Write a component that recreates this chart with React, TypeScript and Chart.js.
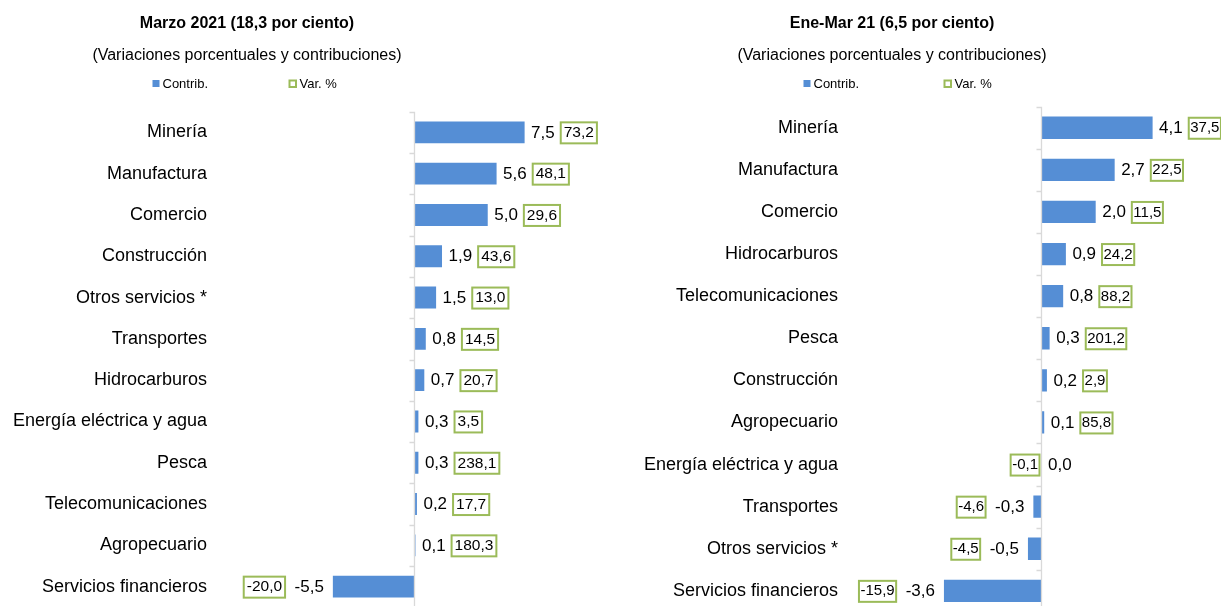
import { useEffect, useRef } from 'react';
import { Chart, registerables } from 'chart.js';

Chart.register(...registerables);

// ---------- DATA ----------
const LEGEND_LABELS = ['Contrib.', 'Var. %'];
const SUBTITLE = '(Variaciones porcentuales y contribuciones)';

const LEFT_TITLE = 'Marzo 2021 (18,3 por ciento)';
const LEFT_CATEGORIES = [
  'Minería',
  'Manufactura',
  'Comercio',
  'Construcción',
  'Otros servicios *',
  'Transportes',
  'Hidrocarburos',
  'Energía eléctrica y agua',
  'Pesca',
  'Telecomunicaciones',
  'Agropecuario',
  'Servicios financieros',
];
const LEFT_CONTRIB = [7.5, 5.6, 5.0, 1.9, 1.5, 0.8, 0.7, 0.3, 0.3, 0.2, 0.1, -5.5];
const LEFT_VAR = [73.2, 48.1, 29.6, 43.6, 13.0, 14.5, 20.7, 3.5, 238.1, 17.7, 180.3, -20.0];

const RIGHT_TITLE = 'Ene-Mar 21 (6,5 por ciento)';
const RIGHT_CATEGORIES = [
  'Minería',
  'Manufactura',
  'Comercio',
  'Hidrocarburos',
  'Telecomunicaciones',
  'Pesca',
  'Construcción',
  'Agropecuario',
  'Energía eléctrica y agua',
  'Transportes',
  'Otros servicios *',
  'Servicios financieros',
];
const RIGHT_CONTRIB = [4.1, 2.7, 2.0, 0.9, 0.8, 0.3, 0.2, 0.1, 0.0, -0.3, -0.5, -3.6];
const RIGHT_VAR = [37.5, 22.5, 11.5, 24.2, 88.2, 201.2, 2.9, 85.8, -0.1, -4.6, -4.5, -15.9];

// ---------- STYLE ----------
const BLUE = '#558ED5';
const GREEN = '#9BBB59';
const AXIS_GRAY = '#D9D9D9';
const TEXT = '#000000';
const FONT = "'Liberation Sans', Arial, Helvetica, sans-serif";
const CANVAS_H = 620;

const fmt = (v: number) => v.toFixed(1).replace('.', ',').replace(/^-0,0$/, '0,0');

type PanelCfg = {
  pageLeft: number;
  width: number;
  title: string;
  centerX: number;
  legendX: [number, number];
  chartTop: number;
  chartBottom: number;
  chartLeft: number;
  chartRight: number;
  xMin: number;
  xMax: number;
  categories: string[];
  contrib: number[];
  variation: number[];
  varFont: number;
  boxPad: number;
};

const PANELS: PanelCfg[] = [
  {
    pageLeft: 0,
    width: 612,
    title: LEFT_TITLE,
    centerX: 247,
    legendX: [152.5, 288.5],
    chartTop: 111.7,
    chartBottom: 607.3,
    chartLeft: 215,
    chartRight: 605,
    xMin: -13.49,
    xMax: 12.95,
    categories: LEFT_CATEGORIES,
    contrib: LEFT_CONTRIB,
    variation: LEFT_VAR,
    varFont: 15.5,
    boxPad: 3,
  },
  {
    pageLeft: 612,
    width: 609,
    title: RIGHT_TITLE,
    centerX: 280,
    legendX: [191.5, 331.5],
    chartTop: 106.7,
    chartBottom: 611.9,
    chartLeft: 234,
    chartRight: 606,
    xMin: -7.214,
    xMax: 6.513,
    categories: RIGHT_CATEGORIES,
    contrib: RIGHT_CONTRIB,
    variation: RIGHT_VAR,
    varFont: 15,
    boxPad: 1.5,
  },
];

function makeHeaderPlugin(p: PanelCfg) {
  return {
    id: 'header',
    afterDraw(chart: any) {
      const ctx = chart.ctx as CanvasRenderingContext2D;
      ctx.save();
      ctx.fillStyle = TEXT;
      ctx.textAlign = 'center';
      ctx.textBaseline = 'alphabetic';
      ctx.font = `bold 16px ${FONT}`;
      ctx.fillText(p.title, p.centerX, 27.5);
      ctx.font = `16px ${FONT}`;
      ctx.fillText(SUBTITLE, p.centerX, 59.5);
      // legend
      ctx.textAlign = 'left';
      ctx.font = `13px ${FONT}`;
      const boxY = 80;
      ctx.fillStyle = BLUE;
      ctx.fillRect(p.legendX[0], boxY, 7, 7);
      ctx.fillStyle = TEXT;
      ctx.fillText(LEGEND_LABELS[0], p.legendX[0] + 10, 88);
      ctx.strokeStyle = GREEN;
      ctx.lineWidth = 2;
      ctx.strokeRect(p.legendX[1] + 1, boxY + 0.5, 6.5, 6.5);
      ctx.fillStyle = TEXT;
      ctx.fillText(LEGEND_LABELS[1], p.legendX[1] + 11, 88);
      ctx.restore();
    },
  };
}

function makeAxisPlugin() {
  return {
    id: 'zeroAxis',
    afterDatasetsDraw(chart: any) {
      const ctx = chart.ctx as CanvasRenderingContext2D;
      const xs = chart.scales.x;
      const ys = chart.scales.y;
      const x0 = Math.round(xs.getPixelForValue(0)) + 0.5;
      const n = ys.getLabels().length;
      ctx.save();
      ctx.strokeStyle = AXIS_GRAY;
      ctx.lineWidth = 1.3;
      ctx.beginPath();
      ctx.moveTo(x0, chart.chartArea.top);
      ctx.lineTo(x0, chart.chartArea.bottom);
      for (let i = 0; i <= n; i++) {
        const y = Math.round(ys.getPixelForValue(i - 0.5)) + 0.5;
        ctx.moveTo(x0 - 5, y);
        ctx.lineTo(x0, y);
      }
      ctx.stroke();
      ctx.restore();
    },
  };
}

function makeLabelPlugin(p: PanelCfg) {
  return {
    id: 'valueLabels',
    afterDraw(chart: any) {
      const ctx = chart.ctx as CanvasRenderingContext2D;
      const meta = chart.getDatasetMeta(0);
      const data = chart.data.datasets[0].data as number[];
      const x0 = chart.scales.x.getPixelForValue(0);
      ctx.save();
      ctx.textBaseline = 'middle';
      meta.data.forEach((el: any, i: number) => {
        const c = data[i];
        const v = p.variation[i];
        const end = el.x;
        const y = el.y + 0.5;
        const cText = fmt(c);
        const vText = fmt(v);
        ctx.font = `17px ${FONT}`;
        const cw = ctx.measureText(cText).width;
        ctx.font = `${p.varFont}px ${FONT}`;
        const vw = ctx.measureText(vText).width;
        const bw = vw + p.boxPad * 2 + 2;
        const bh = 23;
        let cx: number;
        let bx: number;
        if (c >= 0) {
          cx = end + 6.5;
          if (v >= 0) {
            bx = cx + cw + 5;
          } else {
            bx = x0 - 1 - bw;
          }
        } else {
          cx = end - 9 - cw;
          bx = cx - 8.5 - bw;
        }
        ctx.fillStyle = TEXT;
        ctx.textAlign = 'left';
        ctx.font = `17px ${FONT}`;
        ctx.fillText(cText, cx, y);
        // box
        ctx.fillStyle = '#FFFFFF';
        ctx.fillRect(bx, y - bh / 2, bw, bh);
        ctx.strokeStyle = GREEN;
        ctx.lineWidth = 2;
        ctx.strokeRect(bx + 1, y - bh / 2 + 1, bw - 2, bh - 2);
        ctx.fillStyle = TEXT;
        ctx.font = `${p.varFont}px ${FONT}`;
        ctx.fillText(vText, bx + 1 + p.boxPad, y);
      });
      ctx.restore();
    },
  };
}

function Panel({ p }: { p: PanelCfg }) {
  const ref = useRef<HTMLCanvasElement | null>(null);
  useEffect(() => {
    if (!ref.current) return;
    const chart = new Chart(ref.current, {
      type: 'bar',
      data: {
        labels: p.categories,
        datasets: [
          {
            label: LEGEND_LABELS[0],
            data: p.contrib,
            backgroundColor: BLUE,
            borderWidth: 0,
            barPercentage: 0.53,
            categoryPercentage: 1,
          },
        ],
      },
      options: {
        indexAxis: 'y',
        responsive: false,
        animation: false,
        devicePixelRatio: 1,
        layout: {
          padding: {
            top: p.chartTop,
            bottom: CANVAS_H - p.chartBottom,
            left: 0,
            right: p.width - p.chartRight,
          },
        },
        plugins: {
          legend: { display: false },
          title: { display: false },
          tooltip: { enabled: false },
        },
        scales: {
          x: {
            type: 'linear',
            display: false,
            min: p.xMin,
            max: p.xMax,
          },
          y: {
            type: 'category',
            position: 'left',
            grid: { display: false, drawTicks: false },
            border: { display: false },
            ticks: {
              autoSkip: false,
              padding: 8,
              color: TEXT,
              font: { family: FONT, size: 18 },
            },
            afterFit: (scale: any) => {
              scale.width = p.chartLeft;
              scale.paddingTop = 0;
              scale.paddingBottom = 0;
            },
          },
        },
      },
      plugins: [makeAxisPlugin(), makeLabelPlugin(p), makeHeaderPlugin(p)],
    } as any);
    return () => chart.destroy();
  }, [p]);
  return (
    <canvas
      ref={ref}
      width={p.width}
      height={CANVAS_H}
      style={{
        position: 'absolute',
        left: p.pageLeft,
        top: 0,
        width: p.width,
        height: CANVAS_H,
      }}
    />
  );
}

export default function App() {
  return (
    <div
      style={{
        position: 'fixed',
        left: 0,
        top: 0,
        width: 1221,
        height: 606,
        overflow: 'hidden',
        background: '#FFFFFF',
      }}
    >
      {PANELS.map((p, i) => (
        <Panel key={i} p={p} />
      ))}
    </div>
  );
}
